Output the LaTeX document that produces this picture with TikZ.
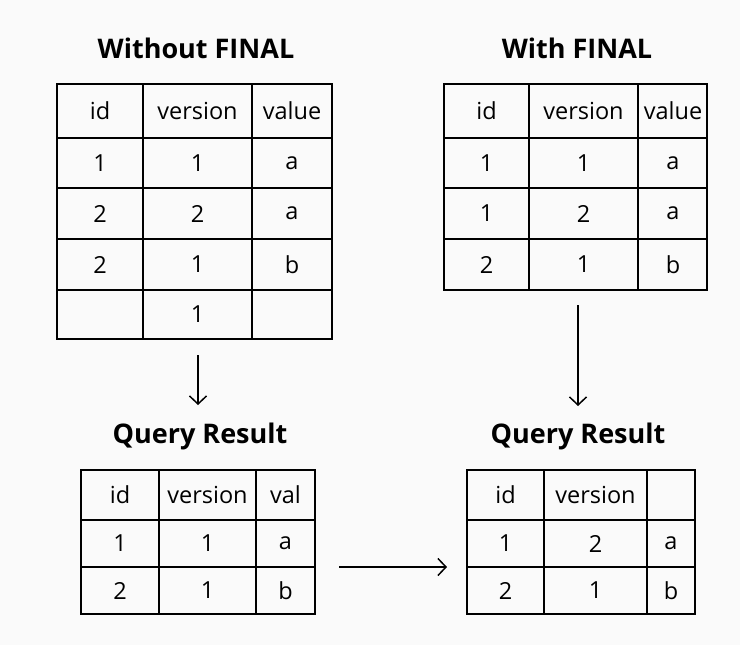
\documentclass[tikz,border=0pt]{standalone}
\usepackage{fontspec}
\setmainfont{Open Sans}
\usetikzlibrary{arrows.meta}
\definecolor{bgc}{HTML}{FAFAFA}
\tikzset{
  cell/.style={font=\fontsize{23.5}{26}\selectfont, anchor=center, inner sep=0pt},
  ttl/.style={font=\fontsize{27}{30}\selectfont\bfseries, anchor=center, inner sep=0pt},
  grid/.style={draw=black, line width=1.3pt},
  conn/.style={draw=black, line width=1.5pt, -{Straight Barb[length=8pt,width=17pt]}}
}
\begin{document}
\begin{tikzpicture}[x=1pt,y=-1pt]
\fill[bgc] (0,0) rectangle (740,645);
\useasboundingbox (0,0) rectangle (740,645);
% titles
\node[ttl] (t1) at (196,48) {Without FINAL};
\node[ttl] (t2) at (577,48) {With FINAL};
\node[ttl] (q1) at (200,436) {Query Result};
\node[ttl] (q2) at (578,436) {Query Result};
% table 1
\node[grid, minimum width=275pt, minimum height=255pt, inner sep=0pt] (tab1) at (194.5,211.5) {};
\draw[grid] (57,138) -- (332,138) (57,188) -- (332,188) (57,239) -- (332,239) (57,290) -- (332,290)
  (143,84) -- (143,339) (252,84) -- (252,339);
\foreach \a/\b/\c/\y in {id/version/value/111, 1/1/a/163, 2/2/a/213.5, 2/1/b/264.5, /1//314.5}{
  \node[cell] at (100,\y) {\a};
  \node[cell] at (197.5,\y) {\b};
  \node[cell] at (292,\y) {\c};
}
% table 2
\node[grid, minimum width=263pt, minimum height=206pt, inner sep=0pt] (tab2) at (575.5,187) {};
\draw[grid] (444,138) -- (707,138) (444,188) -- (707,188) (444,239) -- (707,239)
  (529,84) -- (529,290) (638,84) -- (638,290);
\foreach \a/\b/\c/\y in {id/version/value/111, 1/1/a/163, 1/2/a/213.5, 2/1/b/264.5}{
  \node[cell] at (486.5,\y) {\a};
  \node[cell] at (583.5,\y) {\b};
  \node[cell] at (673,\y) {\c};
}
% table 3
\node[grid, minimum width=234pt, minimum height=144pt, inner sep=0pt] (tab3) at (198,542) {};
\draw[grid] (81,520) -- (315,520) (81,567) -- (315,567)
  (159,470) -- (159,614) (256,470) -- (256,614);
\foreach \a/\b/\c/\y in {id/version/val/495, 1/1/a/543.5, 2/1/b/590.5}{
  \node[cell] at (120,\y) {\a};
  \node[cell] at (207.5,\y) {\b};
  \node[cell] at (285.5,\y) {\c};
}
% table 4
\node[grid, minimum width=228pt, minimum height=144pt, inner sep=0pt] (tab4) at (581,542) {};
\draw[grid] (467,520) -- (695,520) (467,567) -- (695,567)
  (544,470) -- (544,614) (647,470) -- (647,614);
\foreach \a/\b/\c/\y in {id/version//495, 1/2/a/543.5, 2/1/b/590.5}{
  \node[cell] at (505.5,\y) {\a};
  \node[cell] at (595.5,\y) {\b};
  \node[cell] at (671,\y) {\c};
}
% connectors
\coordinate (a1s) at (198,355);
\coordinate (a1e) at (198,405);
\coordinate (a2s) at (578,305);
\coordinate (a2e) at (578,406);
\coordinate (a3s) at (339,567);
\coordinate (a3e) at (447,567);
\draw[conn] (a1s) -- (a1e);
\draw[conn] (a2s) -- (a2e);
\draw[conn] (a3s) -- (a3e);
\end{tikzpicture}
\end{document}
